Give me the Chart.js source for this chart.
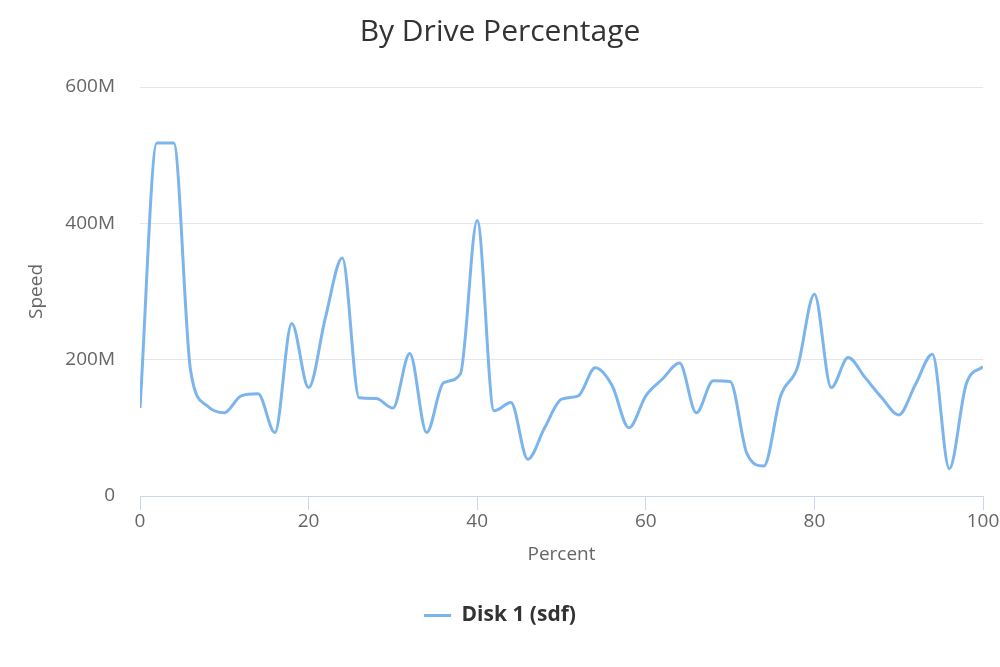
<!DOCTYPE html>
<html>
<head>
<meta charset="utf-8">
<script src="https://cdn.jsdelivr.net/npm/chart.js@4.4.1/dist/chart.umd.min.js"></script>
<style>
  html, body { margin: 0; padding: 0; background: #ffffff; }
  #wrap { width: 1000px; height: 667px; position: relative; }
</style>
</head>
<body>
<div id="wrap"><canvas id="c" width="1000" height="667"></canvas></div>
<script>
// Data
const percents = [0, 2, 4, 6, 8, 10, 12, 14, 16, 18, 20, 22, 24, 26, 28, 30, 32, 34, 36, 38, 40,
  42, 44, 46, 48, 50, 52, 54, 56, 58, 60, 62, 64, 66, 68, 70, 72, 74, 76, 78, 80,
  82, 84, 86, 88, 90, 92, 94, 96, 98, 100];
const speedsM = [129, 518, 518, 184, 132, 122, 147, 150, 93, 253, 159, 262, 349, 144, 143, 129, 209, 93, 166, 179, 404,
  125, 137, 54, 100, 142, 147, 188, 162, 100, 147, 172, 195, 122, 169, 168, 62, 44, 147, 189, 296,
  159, 203, 174, 144, 119, 164, 208, 40, 164, 190];
const seriesName = 'Disk 1 (sdf)';
const chartTitle = 'By Drive Percentage';
const xTitle = 'Percent';
const yTitle = 'Speed';
const yTickValues = [0, 200e6, 400e6, 600e6];
const xTickValues = [0, 20, 40, 60, 80, 100];

const points = percents.map((p, i) => ({ x: p, y: speedsM[i] * 1e6 }));
const FONT = "'Open Sans', 'DejaVu Sans', sans-serif";

new Chart(document.getElementById('c'), {
  type: 'line',
  data: {
    datasets: [{
      label: seriesName,
      data: points,
      xAxisID: 'x',
      yAxisID: 'y',
      borderColor: '#7cb5ec',
      backgroundColor: '#7cb5ec',
      borderWidth: 3,
      pointRadius: 0,
      pointHoverRadius: 0,
      fill: false,
      cubicInterpolationMode: 'monotone',
      pointStyle: 'line'
    }]
  },
  options: {
    responsive: false,
    animation: false,
    devicePixelRatio: 1,
    layout: { padding: { left: 0, right: 0, top: 0, bottom: 31 } },
    plugins: {
      tooltip: { enabled: false },
      title: {
        display: true,
        text: chartTitle,
        color: '#333333',
        font: { family: FONT, size: 30, weight: 'normal', lineHeight: 1.2 },
        padding: { top: 14, bottom: 37 }
      },
      legend: {
        display: true,
        position: 'bottom',
        labels: {
          color: '#333333',
          font: { family: FONT, size: 21, weight: 'bold' },
          usePointStyle: true,
          pointStyleWidth: 27,
          padding: 31
        }
      }
    },
    scales: {
      x: {
        type: 'linear',
        min: 0,
        max: 100,
        afterBuildTicks: (scale) => { scale.ticks = xTickValues.map(v => ({ value: v })); },
        afterFit: (scale) => { scale.height = 78; },
        ticks: {
          color: '#666666',
          font: { family: FONT, size: 19 },
          padding: 0,
          maxRotation: 0
        },
        grid: {
          drawOnChartArea: false,
          drawTicks: true,
          tickLength: 14,
          color: '#ccd6eb'
        },
        border: { display: true, color: '#ccd6eb', width: 1 },
        title: {
          display: true,
          text: xTitle,
          color: '#666666',
          font: { family: FONT, size: 19 },
          padding: { top: 0, bottom: 8 }
        }
      },
      y: {
        type: 'linear',
        position: 'left',
        min: 0,
        max: 600e6,
        afterBuildTicks: (scale) => { scale.ticks = yTickValues.map(v => ({ value: v })); },
        afterFit: (scale) => { scale.width = 140; },
        ticks: {
          color: '#666666',
          font: { family: FONT, size: 19 },
          padding: 25,
          callback: (v) => v === 0 ? '0' : (v / 1e6) + 'M'
        },
        grid: {
          drawTicks: false,
          color: '#e6e6e6',
          lineWidth: 1
        },
        border: { display: false },
        title: {
          display: true,
          text: yTitle,
          color: '#666666',
          font: { family: FONT, size: 19 },
          padding: { top: 25, bottom: 0 }
        }
      },
      yRight: {
        type: 'linear',
        position: 'right',
        min: 0,
        max: 1,
        display: true,
        afterFit: (scale) => { scale.width = 17; },
        ticks: { display: false },
        grid: { display: false, drawTicks: false },
        border: { display: false },
        title: { display: false }
      }
    }
  }
});
</script>
</body>
</html>
